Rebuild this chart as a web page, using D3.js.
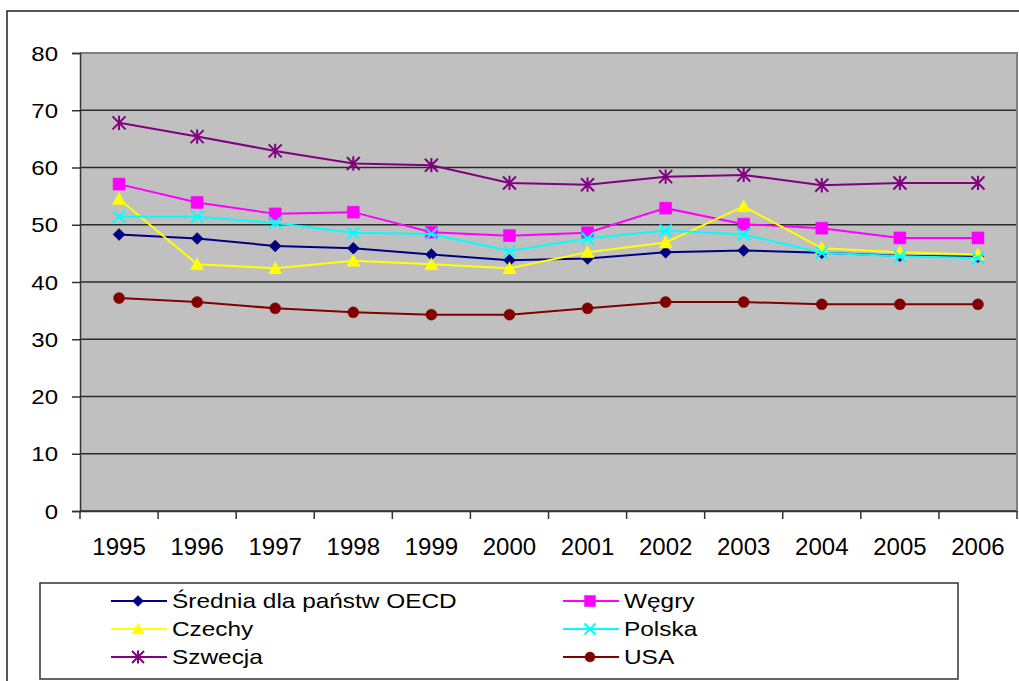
<!DOCTYPE html>
<html><head><meta charset="utf-8">
<script src="https://cdn.jsdelivr.net/npm/d3@7"></script>
<style>html,body{margin:0;padding:0;background:#fff;}svg{display:block;}text{font-family:"Liberation Sans",Arial,sans-serif;fill:#000;}</style>
</head><body>
<svg id="c" width="1019" height="681"></svg>
<script>
const years = ["1995","1996","1997","1998","1999","2000","2001","2002","2003","2004","2005","2006"];
const yTicks = [0,10,20,30,40,50,60,70,80];
const oecd    = [48.3, 47.6, 46.3, 45.9, 44.8, 43.8, 44.1, 45.2, 45.5, 45.1, 44.6, 44.4];
const wegry   = [57.1, 53.9, 51.9, 52.2, 48.7, 48.1, 48.6, 52.9, 50.1, 49.4, 47.7, 47.7];
const czechy  = [54.5, 43.1, 42.4, 43.7, 43.1, 42.4, 45.2, 46.9, 53.2, 45.9, 45.2, 44.8];
const polska  = [51.4, 51.4, 50.3, 48.6, 48.4, 45.4, 47.6, 49.0, 48.3, 45.1, 44.5, 44.2];
const szwecja = [67.8, 65.4, 62.9, 60.7, 60.4, 57.3, 57.0, 58.4, 58.7, 56.9, 57.3, 57.3];
const usa     = [37.2, 36.5, 35.4, 34.7, 34.3, 34.3, 35.4, 36.5, 36.5, 36.1, 36.1, 36.1];
const seriesNames = ["Średnia dla państw OECD","Węgry","Czechy","Polska","Szwecja","USA"];

const series = [
  {name: seriesNames[0], values: oecd,    color: "#000080", marker: "diamond"},
  {name: seriesNames[1], values: wegry,   color: "#FF00FF", marker: "square"},
  {name: seriesNames[2], values: czechy,  color: "#FFFF00", marker: "triangle"},
  {name: seriesNames[3], values: polska,  color: "#00FFFF", marker: "x"},
  {name: seriesNames[4], values: szwecja, color: "#800080", marker: "star"},
  {name: seriesNames[5], values: usa,     color: "#800000", marker: "circle"}
];

const svg = d3.select("#c");
const L = 80, R = 1017, T = 53, B = 511;

// outer chart border
svg.append("rect").attr("x",7).attr("y",11).attr("width",1040).attr("height",700)
  .attr("fill","#fff").attr("stroke","#222").attr("stroke-width",1.5);

const x = d3.scaleBand().domain(years).range([L,R]).padding(0);
const y = d3.scaleLinear().domain([0,80]).range([B,T]);

// plot area
svg.append("rect").attr("x",L).attr("y",T).attr("width",R-L).attr("height",B-T)
  .attr("fill","#C0C0C0");

// gridlines
svg.append("g").selectAll("line").data(yTicks).join("line")
  .attr("x1",L).attr("x2",R).attr("y1",d=>y(d)).attr("y2",d=>y(d))
  .attr("stroke","#2a2a2a").attr("stroke-width",1.5);

// plot border top/right
svg.append("path").attr("d",`M${L},${T}H${R}V${B}`).attr("fill","none")
  .attr("stroke","#808080").attr("stroke-width",2);

// y axis
const yAxis = d3.axisLeft(y).tickValues(yTicks).tickSize(8).tickPadding(14).tickFormat(d3.format("d"));
const gy = svg.append("g").attr("transform",`translate(${L},0)`).call(yAxis);
gy.select(".domain").attr("stroke","#333").attr("stroke-width",1.5);
gy.selectAll(".tick line").attr("stroke","#333").attr("stroke-width",1.5);
gy.selectAll(".tick text").each(function(){
  const t = d3.select(this);
  t.attr("font-size",20).attr("dy",null).attr("x",null)
   .attr("transform","translate(-22,7) scale(1.2,1)").attr("text-anchor","end");
});

// x axis
const xAxis = d3.axisBottom(x).tickSize(0).tickPadding(0);
const gx = svg.append("g").attr("transform",`translate(0,${B})`).call(xAxis);
gx.select(".domain").attr("stroke","#333").attr("stroke-width",1.5);
gx.selectAll(".tick text").attr("font-size",24).attr("dy",null).attr("y",44);
// category boundary ticks
const bounds = years.map(d=>x(d)).concat([x(years[years.length-1])+x.bandwidth()]);
svg.append("g").selectAll("line").data(bounds).join("line")
  .attr("x1",d=>d).attr("x2",d=>d).attr("y1",B).attr("y2",B+8)
  .attr("stroke","#333").attr("stroke-width",1.5);

// marker paths
function markerPath(type, s){
  const h = s/2;
  switch(type){
    case "diamond": return `M0,${-h}L${h},0L0,${h}L${-h},0Z`;
    case "square": return `M${-h},${-h}H${h}V${h}H${-h}Z`;
    case "triangle": return `M0,${-h*1.1}L${h*1.1},${h*0.9}L${-h*1.1},${h*0.9}Z`;
    case "x": return `M${-h},${-h}L${h},${h}M${-h},${h}L${h},${-h}`;
    case "star": return `M${-h},${-h}L${h},${h}M${-h},${h}L${h},${-h}M0,${-h*1.1}V${h*1.1}`;
    case "circle": return d3.symbol(d3.symbolCircle, Math.PI*h*h)();
  }
}
function drawMarker(g, type, color, s){
  const filled = !(type==="x"||type==="star");
  g.append("path").attr("d",markerPath(type,s))
    .attr("fill", filled ? color : "none")
    .attr("stroke", color)
    .attr("stroke-width", filled ? 0.5 : 2);
}

const cx = (i)=> x(years[i]) + x.bandwidth()/2;
const line = d3.line().x((d,i)=>cx(i)).y(d=>y(d));

const sizes = {diamond:12, square:12, triangle:12, x:12, star:13, circle:11};

series.forEach(s=>{
  const g = svg.append("g");
  g.append("path").datum(s.values).attr("d",line).attr("fill","none")
    .attr("stroke",s.color).attr("stroke-width",2);
  s.values.forEach((v,i)=>{
    const mg = g.append("g").attr("transform",`translate(${cx(i)},${y(v)})`);
    drawMarker(mg, s.marker, s.color, sizes[s.marker]);
  });
});

// legend
const legX = 40, legY = 583, legR = 958, legB = 679;
svg.append("rect").attr("x",legX).attr("y",legY).attr("width",legR-legX).attr("height",legB-legY)
  .attr("fill","#fff").attr("stroke","#333").attr("stroke-width",1.5);
const legendPos = [
  {col:0,row:0},{col:1,row:0},{col:0,row:1},{col:1,row:1},{col:0,row:2},{col:1,row:2}
];
const colX = [111, 563];
const rowY = [601, 629, 657];
series.forEach((s,i)=>{
  const p = legendPos[i];
  const g = svg.append("g").attr("transform",`translate(${colX[p.col]},${rowY[p.row]})`);
  g.append("line").attr("x1",0).attr("x2",56).attr("y1",0).attr("y2",0)
    .attr("stroke",s.color).attr("stroke-width",2);
  const mg = g.append("g").attr("transform","translate(27,0)");
  drawMarker(mg, s.marker, s.color, sizes[s.marker]-1);
  g.append("text").attr("transform","translate(61,7) scale(1.22,1)")
    .attr("font-size",20).text(s.name);
});
</script>
</body></html>
